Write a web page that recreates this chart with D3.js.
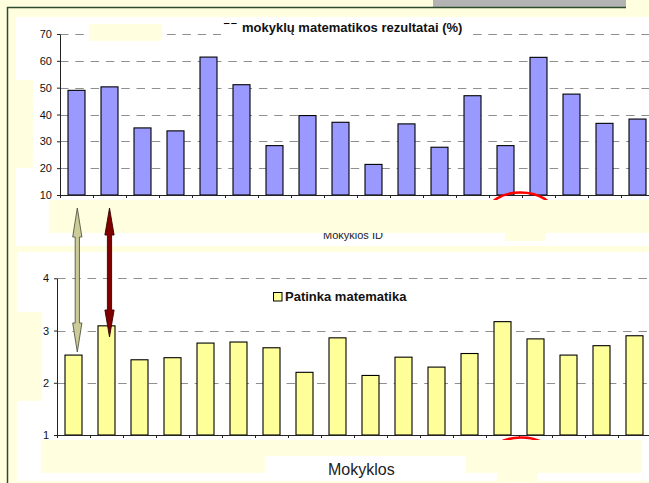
<!DOCTYPE html>
<html><head><meta charset="utf-8">
<script src="https://cdn.jsdelivr.net/npm/d3@7"></script>
<style>
body{margin:0;background:#FFFFE0;overflow:hidden}
svg{display:block}
text{font-family:'Liberation Sans',Arial,sans-serif}
</style></head>
<body><svg id="c" width="649" height="483"></svg>
<script>
// ---- data ----
const schools = ["1","2","3","4","5","6","7","8","9","10","11","12","13","14","15","16","17","18"];
const mathResults = [49.0, 50.3, 35.0, 33.9, 61.4, 51.1, 28.4, 39.6, 37.1, 21.4, 36.5, 27.8, 47.0, 28.4, 61.3, 47.6, 36.7, 38.3];
const likeMath = [2.53, 3.09, 2.44, 2.48, 2.76, 2.78, 2.67, 2.20, 2.86, 2.14, 2.49, 2.30, 2.56, 3.17, 2.84, 2.53, 2.71, 2.90];
const topTicks = [10, 20, 30, 40, 50, 60, 70];
const bottomTicks = [1, 2, 3, 4];
const topTitle = "mokyklų matematikos rezultatai (%)";
const topHidden = "55";
const topXLabel = "Mokyklos ID";
const legendLabel = "Patinka matematika";
const bottomXLabel = "Mokyklos";

const YEL = "#FFFFE0";
const svg = d3.select("#c");
const rect = (x, y, w, h, fill) => svg.append("rect").attr("x", x).attr("y", y).attr("width", w).attr("height", h).attr("fill", fill);

// background & frame
rect(0, 0, 649, 483, YEL);
rect(433, 0, 193, 7, "#B3B3B3");
svg.append("line").attr("x1", 7).attr("x2", 626).attr("y1", 7.5).attr("y2", 7.5).attr("stroke", "#2d4b2d").attr("stroke-width", 1.5);
svg.append("line").attr("x1", 7.5).attr("x2", 7.5).attr("y1", 7).attr("y2", 483).attr("stroke", "#2d4b2d").attr("stroke-width", 1.5);

// white panels
rect(16, 17, 640, 229, "#fff");
rect(17, 252, 640, 229, "#fff");
rect(16, 80, 17, 88, YEL);
rect(17, 312, 25, 89, YEL);

function drawChart(g, values, ticks, x0, yDom, yRange, fill) {
  const n = schools.length, step = 33;
  const x = d3.scaleBand().domain(schools).range([x0, x0 + n * step]).paddingInner(0.485).paddingOuter(0.2425);
  const y = d3.scaleLinear().domain(yDom).range(yRange);
  const xb = d3.scaleLinear().domain([0, n]).range([x0, x0 + n * step]);
  // grid
  g.append("g").selectAll("line").data(ticks.slice(1)).join("line")
    .attr("x1", x0).attr("x2", 660)
    .attr("y1", d => Math.round(y(d)) + 0.5).attr("y2", d => Math.round(y(d)) + 0.5)
    .attr("stroke", "#8f8f8f").attr("stroke-width", 1).attr("stroke-dasharray", "8.5,6.8");
  // bars
  g.append("g").selectAll("rect").data(values).join("rect")
    .attr("x", (d, i) => x(schools[i]))
    .attr("y", d => y(d))
    .attr("width", x.bandwidth())
    .attr("height", d => y(yDom[0]) - y(d))
    .attr("fill", fill).attr("stroke", "#000").attr("stroke-width", 1.1);
  // y axis
  const ya = g.append("g").attr("transform", `translate(${x0},0)`)
    .call(d3.axisLeft(y).tickValues(ticks).tickSize(3).tickSizeOuter(0).tickPadding(5).tickFormat(d3.format("d")));
  ya.selectAll("text").attr("font-size", 11).attr("fill", "#111").attr("font-family", "'Liberation Sans',Arial,sans-serif");
  ya.selectAll("line,path").attr("stroke", "#222");
  // x axis
  const xa = g.append("g").attr("transform", `translate(0,${y(yDom[0])})`)
    .call(d3.axisBottom(xb).tickValues(d3.range(0, n + 1)).tickSize(3).tickSizeOuter(0).tickFormat(""));
  xa.selectAll("line,path").attr("stroke", "#222");
  return { x, y };
}

// ---- top chart ----
const gTop = svg.append("g");
drawChart(gTop, mathResults, topTicks, 60, [10, 70], [195, 34], "#9999FF");

// title with partly hidden prefix
svg.append("clipPath").attr("id", "clipPre").append("rect").attr("x", 215).attr("y", 15).attr("width", 30).attr("height", 9.3);
svg.append("text").attr("x", 223).attr("y", 32).attr("font-size", 13).attr("font-weight", "bold")
  .attr("clip-path", "url(#clipPre)").text(topHidden);
rect(221, 24.3, 246, 12, "#fff");
svg.append("text").attr("x", 242).attr("y", 32).attr("font-size", 13).attr("font-weight", "bold").attr("fill", "#111").text(topTitle);
rect(89, 24, 73, 17, YEL);

svg.append("text").attr("x", 323).attr("y", 239.3).attr("font-size", 11).attr("fill", "#222").text(topXLabel);
svg.append("ellipse").attr("cx", 520.5).attr("cy", 212.5).attr("rx", 33).attr("ry", 20)
  .attr("fill", "none").attr("stroke", "#FF0000").attr("stroke-width", 2.6);
rect(49, 200, 610, 33, YEL);
rect(505, 233, 41, 8, YEL);

// ---- bottom chart ----
const gBot = svg.append("g");
drawChart(gBot, likeMath, bottomTicks, 57, [1, 4], [435, 278.3], "#FFFF99");

// legend
svg.append("rect").attr("x", 273.5).attr("y", 292.5).attr("width", 8.5).attr("height", 8.5)
  .attr("fill", "#FFFF99").attr("stroke", "#000").attr("stroke-width", 1);
svg.append("text").attr("x", 285).attr("y", 300.8).attr("font-size", 13).attr("font-weight", "bold").attr("fill", "#111").text(legendLabel);

svg.append("text").attr("x", 328).attr("y", 475).attr("font-size", 16).attr("font-family", "'DejaVu Sans',Verdana,sans-serif").attr("fill", "#222").text(bottomXLabel);

svg.append("clipPath").attr("id", "clipEl").append("rect").attr("x", 480).attr("y", 430).attr("width", 90).attr("height", 12);
svg.append("ellipse").attr("cx", 521).attr("cy", 457.5).attr("rx", 33).attr("ry", 20)
  .attr("fill", "none").attr("stroke", "#FF0000").attr("stroke-width", 2.6).attr("clip-path", "url(#clipEl)");
rect(41, 440, 601, 16, YEL);
rect(41, 456, 224, 17, YEL);
rect(466, 456, 176, 17, YEL);
rect(497, 473, 41, 8, YEL);

// ---- annotation arrows ----
function dblArrow(cx, y1, y2, h, fill, stroke) {
  const hw = 4.6, sw = 2.1;
  const p = d3.path();
  p.moveTo(cx, y1); p.lineTo(cx + hw, y1 + h); p.lineTo(cx + sw, y1 + h);
  p.lineTo(cx + sw, y2 - h); p.lineTo(cx + hw, y2 - h); p.lineTo(cx, y2);
  p.lineTo(cx - hw, y2 - h); p.lineTo(cx - sw, y2 - h); p.lineTo(cx - sw, y1 + h);
  p.lineTo(cx - hw, y1 + h); p.closePath();
  svg.append("path").attr("d", p.toString()).attr("fill", fill).attr("stroke", stroke).attr("stroke-width", 0.9);
}
dblArrow(77.3, 208, 352, 29, "#CCCC99", "#555544");
dblArrow(109.5, 208, 337, 27, "#800000", "#3a0000");
</script>
</body></html>
